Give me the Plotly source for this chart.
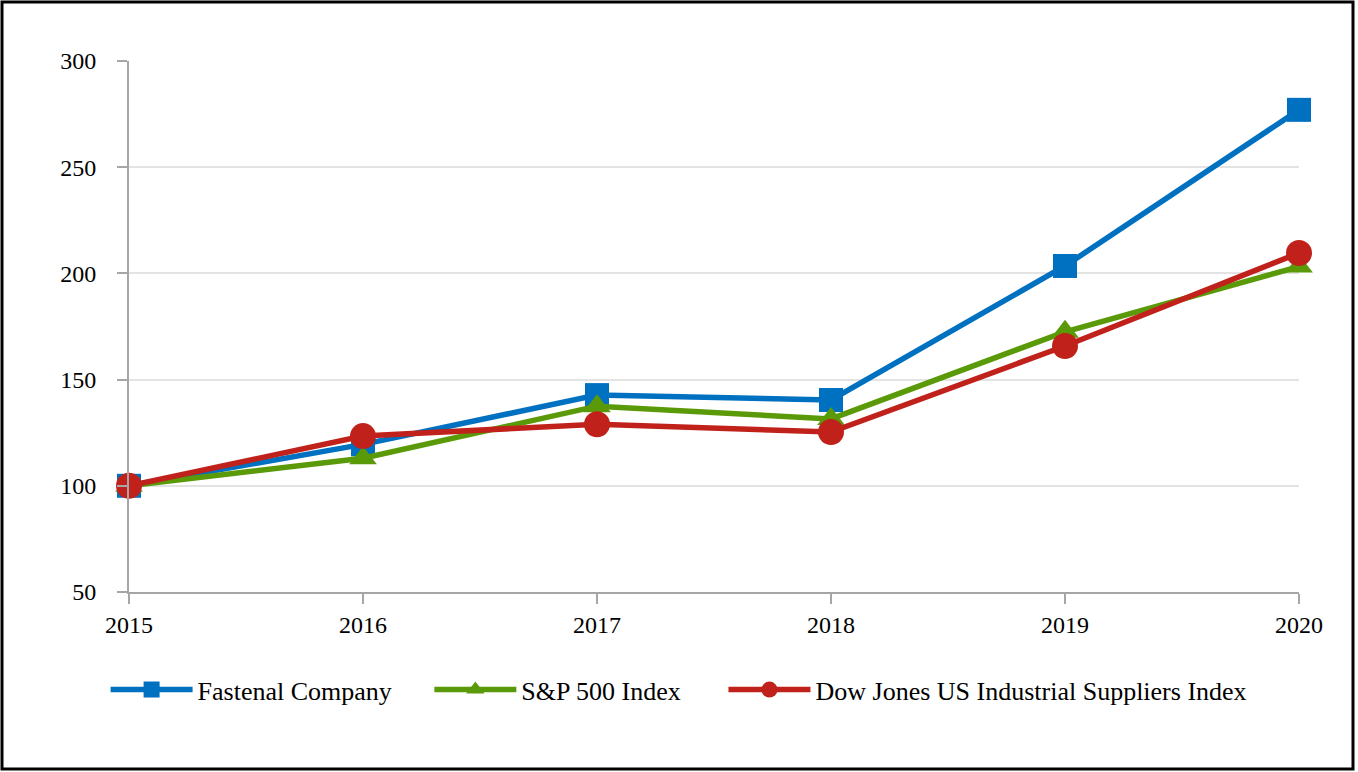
import plotly.graph_objects as go

years = [2015, 2016, 2017, 2018, 2019, 2020]
fastenal = [100, 119.5, 142.7, 140.4, 203.5, 277]
sp500 = [100, 113, 137.5, 131.5, 172.5, 203.2]
dowjones = [100, 123.4, 129, 125.3, 165.8, 209.6]
series_names = ["Fastenal Company", "S&P 500 Index", "Dow Jones US Industrial Suppliers Index"]
y_ticks = [50, 100, 150, 200, 250, 300]

colors = ["#0070C0", "#5A9A08", "#C0221B"]
symbols = ["square", "triangle-up", "circle"]
sizes = [24, 24, 26]

W, H = 1358, 772
ml, mr, mt, mb = 129, 59, 61, 180
pw, ph = W - ml - mr, H - mt - mb

pads = ["\u00a0" * 5, "\u00a0" * 5 + "\u2009", ""]
fig = go.Figure()
for name, p, vals, c, s, sz in zip(series_names, pads, [fastenal, sp500, dowjones], colors, symbols, sizes):
    fig.add_trace(go.Scatter(
        x=years, y=vals, name=name + p, mode="lines+markers",
        line=dict(color=c, width=5.5),
        marker=dict(symbol=s, size=sz, color=c),
        cliponaxis=False,
    ))

fig.update_layout(
    width=W, height=H,
    margin=dict(l=ml, r=mr, t=mt, b=mb, pad=0),
    paper_bgcolor="white", plot_bgcolor="white",
    font=dict(family="Liberation Serif", size=24, color="black"),
    showlegend=True,
    legend=dict(orientation="h", x=-0.02, xanchor="left", y=-0.184, yanchor="middle",
                font=dict(family="Liberation Serif", size=26, color="black"),
                itemwidth=82, tracegroupgap=0),
    xaxis=dict(range=[2015, 2020], tickmode="array", tickvals=years,
               ticktext=[str(y) for y in years],
               showgrid=False, zeroline=False, showline=True, linecolor="#A6A6A6", linewidth=2,
               ticks="outside", ticklen=10, tickcolor="#A6A6A6", tickwidth=2,
               tickfont=dict(family="Liberation Serif", size=24)),
    yaxis=dict(range=[50, 300], tickmode="array", tickvals=y_ticks,
               showgrid=True, gridcolor="#E3E3E3", gridwidth=2, zeroline=False,
               showline=True, linecolor="#A6A6A6", linewidth=2,
               ticks="outside", ticklen=10, tickcolor="#A6A6A6", tickwidth=2,
               ticklabelstandoff=16,
               tickfont=dict(family="Liberation Serif", size=24)),
)

# outer frame around the whole picture
fig.add_shape(type="rect", xref="paper", yref="paper",
              x0=(-ml + 2) / pw, x1=1 + (mr - 5) / pw,
              y0=-(mb - 3) / ph, y1=1 + (mt - 2) / ph,
              line=dict(color="black", width=3), fillcolor="rgba(0,0,0,0)", layer="above")

fig.write_html("out.html", config={"displayModeBar": False},
               post_script="document.body.style.margin='0';document.body.style.overflow='hidden';")
